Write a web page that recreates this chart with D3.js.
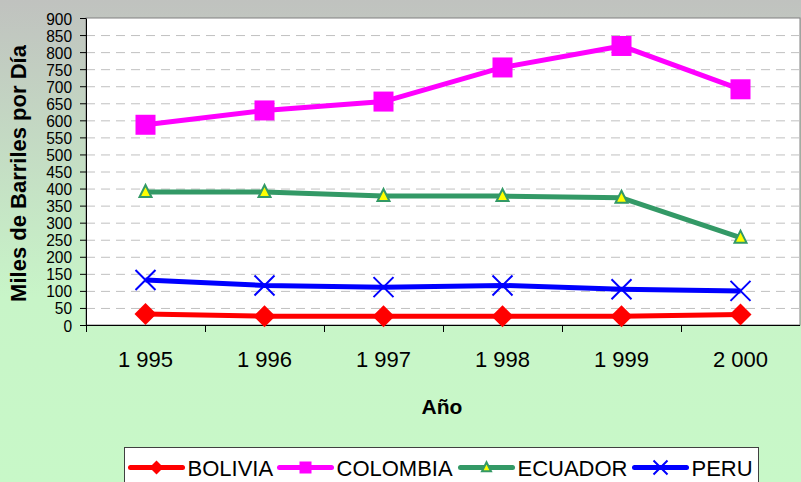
<!DOCTYPE html>
<html>
<head>
<meta charset="utf-8">
<script src="https://cdn.jsdelivr.net/npm/d3@7"></script>
<style>
  body { margin: 0; padding: 0; }
  text { font-family: "Liberation Sans", Arial, sans-serif; fill: #000; }
</style>
</head>
<body>
<div id="chart"></div>
<script>
var years = ["1 995", "1 996", "1 997", "1 998", "1 999", "2 000"];
var bolivia = [32, 26, 26, 26, 26, 31];
var colombia = [587, 629, 655, 755, 818, 691];
var ecuador = [390, 390, 378, 378, 373, 256];
var peru = [132, 116, 111, 116, 105, 100];
var yTicks = d3.range(0, 901, 50);

var series = [
  {name: "BOLIVIA", values: bolivia, color: "#ff0000", marker: "diamond"},
  {name: "COLOMBIA", values: colombia, color: "#ff00ff", marker: "square"},
  {name: "ECUADOR", values: ecuador, color: "#339966", marker: "triangle"},
  {name: "PERU", values: peru, color: "#0000ff", marker: "cross"}
];

var W = 801, H = 482;
var margin = {top: 18, right: 1, bottom: 157, left: 86};
var width = W - margin.left - margin.right;
var height = H - margin.top - margin.bottom;

var svg = d3.select("#chart").append("svg")
  .attr("width", W)
  .attr("height", H);

var grad = svg.append("defs").append("linearGradient")
  .attr("id", "bg")
  .attr("x1", 0).attr("y1", 0).attr("x2", 0).attr("y2", 1);
grad.append("stop").attr("offset", "0%").attr("stop-color", "#c0c2bf");
grad.append("stop").attr("offset", "62%").attr("stop-color", "#c8f5c8");
grad.append("stop").attr("offset", "100%").attr("stop-color", "#c8f8c8");

svg.append("rect").attr("width", W).attr("height", H).attr("fill", "url(#bg)");

var g = svg.append("g")
  .attr("transform", "translate(" + margin.left + "," + margin.top + ")");

var x = d3.scaleBand().domain(years).range([0, width]);
var y = d3.scaleLinear().domain([0, 900]).range([height, 0]);

g.append("rect")
  .attr("width", width).attr("height", height)
  .attr("fill", "#fff")
  .attr("stroke", "#808080");

// dashed gridlines
g.selectAll(".grid").data(yTicks.slice(1, -1))
  .enter().append("line")
  .attr("x1", 0).attr("x2", width)
  .attr("y1", function(d){ return y(d) + 0.5; })
  .attr("y2", function(d){ return y(d) + 0.5; })
  .attr("stroke", "#c0c0c0")
  .attr("stroke-width", 1)
  .attr("stroke-dasharray", "9,6");

// y axis
var yAxis = g.append("g")
  .call(d3.axisLeft(y).tickValues(yTicks).tickSize(6).tickPadding(8));
yAxis.select(".domain").attr("stroke", "#000").attr("d", "M0.5," + (height + 7) + "V0.5");
yAxis.selectAll("text").style("font-size", "15.5px").attr("dy", "0.36em")
  .attr("transform", "scale(1,1.08)");

// x axis
var xAxis = g.append("g")
  .attr("transform", "translate(0," + height + ")")
  .call(d3.axisBottom(x).tickSize(0).tickPadding(26));
xAxis.select(".domain").attr("stroke", "#000").attr("d", "M0,0.5H" + width);
xAxis.selectAll("text").style("font-size", "22px");
g.append("g").selectAll("line").data(years.slice(1))
  .enter().append("line")
  .attr("x1", function(d){ return x(d) + 0.5; })
  .attr("x2", function(d){ return x(d) + 0.5; })
  .attr("y1", height).attr("y2", height + 7)
  .attr("stroke", "#000");

// titles
svg.append("text")
  .attr("transform", "translate(26," + (margin.top + height / 2 + 2) + ") rotate(-90)")
  .attr("text-anchor", "middle")
  .style("font-size", "22px").style("font-weight", "bold")
  .text("Miles de Barriles por Día");

svg.append("text")
  .attr("x", margin.left + width / 2 - 1)
  .attr("y", 414)
  .attr("text-anchor", "middle")
  .style("font-size", "21px").style("font-weight", "bold")
  .text("Año");

var line = d3.line()
  .x(function(d, i){ return x(years[i]) + x.bandwidth() / 2; })
  .y(function(d){ return y(d); });

function drawMarker(sel, s, big) {
  if (s.marker === "diamond") {
    var a = big ? 11 : 7;
    sel.append("path").attr("d", "M0," + (-a) + "L" + a + ",0L0," + a + "L" + (-a) + ",0Z")
      .attr("fill", s.color);
  } else if (s.marker === "square") {
    var h = big ? 10 : 6;
    sel.append("rect").attr("x", -h).attr("y", -h)
      .attr("width", 2 * h).attr("height", 2 * h).attr("fill", s.color);
  } else if (s.marker === "triangle") {
    var t = big ? 1 : 0.75;
    sel.append("path").attr("d", "M0," + (-7 * t) + "L" + (6 * t) + "," + (5 * t) + "L" + (-6 * t) + "," + (5 * t) + "Z")
      .attr("fill", "#ffff00").attr("stroke", s.color).attr("stroke-width", 2);
  } else {
    var r = big ? 10 : 7;
    sel.append("path").attr("d", "M" + (-r) + "," + (-r) + "L" + r + "," + r + "M" + r + "," + (-r) + "L" + (-r) + "," + r)
      .attr("stroke", s.color).attr("stroke-width", 2).attr("fill", "none");
  }
}

series.forEach(function(s){
  g.append("path").datum(s.values)
    .attr("d", line)
    .attr("fill", "none")
    .attr("stroke", s.color)
    .attr("stroke-width", 5)
    .attr("stroke-linejoin", "round");
  g.selectAll(".m-" + s.marker).data(s.values)
    .enter().append("g")
    .attr("class", "m-" + s.marker)
    .attr("transform", function(d, i){ return "translate(" + (x(years[i]) + x.bandwidth() / 2) + "," + y(d) + ")"; })
    .each(function(){ drawMarker(d3.select(this), s, true); });
});

// legend
var lg = svg.append("g").attr("transform", "translate(124.5,447.5)");
lg.append("rect").attr("width", 634).attr("height", 40)
  .attr("fill", "#fff").attr("stroke", "#404040");
var legendX = [6, 155, 336, 510];
series.forEach(function(s, i){
  var it = lg.append("g").attr("transform", "translate(" + legendX[i] + ",20)");
  it.append("line").attr("x1", 0).attr("x2", 52).attr("y1", 0).attr("y2", 0)
    .attr("stroke", s.color).attr("stroke-width", 5).attr("stroke-linecap", "round");
  var m = it.append("g").attr("transform", "translate(26,0)");
  drawMarker(m, s, false);
  it.append("text").attr("x", 57).attr("y", 8)
    .style("font-size", "22px").text(s.name);
});
</script>
</body>
</html>
